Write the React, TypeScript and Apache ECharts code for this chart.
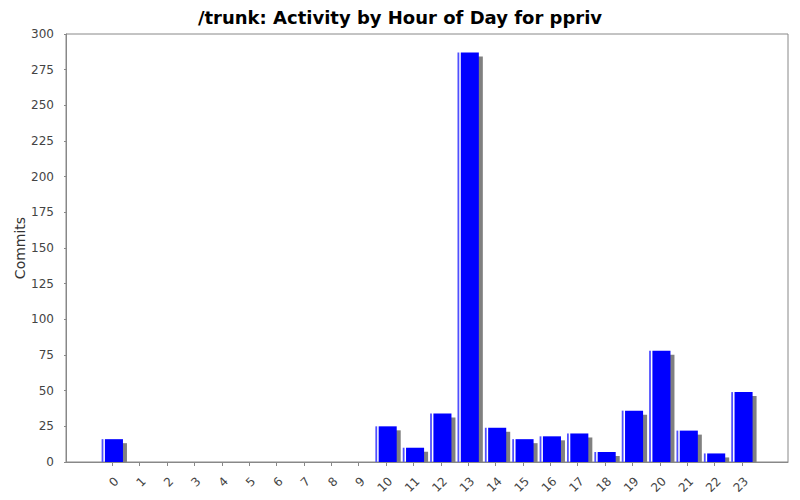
import React, { useEffect, useRef } from "react";
import * as echarts from "echarts";

const hours: string[] = ["0","1","2","3","4","5","6","7","8","9","10","11","12","13","14","15","16","17","18","19","20","21","22","23"];
const commits: number[] = [16,0,0,0,0,0,0,0,0,0,25,10,34,287,24,16,18,20,7,36,78,22,6,49];
const yMin = 0;
const yMax = 300;
const yStep = 25;
const titleText = "/trunk: Activity by Hour of Day for ppriv";
const yTitle = "Commits";

const FONT = "DejaVu Sans";

export default function App() {
  const ref = useRef<HTMLDivElement>(null);
  useEffect(() => {
    if (!ref.current) return;
    const chart = echarts.init(ref.current, undefined, { renderer: "svg" });
    const option: any = {
      animation: false,
      backgroundColor: "#ffffff",
      title: {
        text: titleText,
        left: "center",
        top: 3,
        textStyle: { fontFamily: FONT, fontSize: 18, fontWeight: "bold", color: "#000" },
      },
      grid: [
        { left: 66, top: 34, width: 722, height: 428, show: true, borderColor: "#888", borderWidth: 1, backgroundColor: "#fff" },
        { left: 98.6, top: 34, width: 657, height: 428 },
      ],
      xAxis: [
        {
          gridIndex: 0, type: "value", min: 0, max: 1, offset: 4,
          axisLine: { show: true, lineStyle: { color: "#888", width: 1 } },
          axisTick: { show: false }, axisLabel: { show: false }, splitLine: { show: false },
        },
        {
          gridIndex: 1, type: "category", data: hours, offset: 4, boundaryGap: true,
          axisLine: { show: false },
          axisTick: { show: true, alignWithLabel: true, length: 4, lineStyle: { color: "#888" } },
          axisLabel: { rotate: 45, fontFamily: FONT, fontSize: 12, color: "#444", margin: 9, interval: 0, verticalAlign: "top" },
          splitLine: { show: false },
        },
      ],
      yAxis: [
        {
          gridIndex: 0, type: "value", min: yMin, max: yMax, interval: yStep, offset: 4,
          name: yTitle, nameLocation: "middle", nameGap: 35, nameRotate: 90, nameMoveOverlap: false,
          nameTextStyle: { fontFamily: FONT, fontSize: 14, color: "#333" },
          axisLine: { show: true, lineStyle: { color: "#888", width: 1 } },
          axisTick: { show: true, length: 2, lineStyle: { color: "#888" } },
          axisLabel: { fontFamily: FONT, fontSize: 12, color: "#444", margin: 8 },
          splitLine: { show: false },
        },
        { gridIndex: 1, type: "value", min: yMin, max: yMax, show: false, splitLine: { show: false } },
      ],
      series: [
        {
          type: "custom",
          xAxisIndex: 1,
          yAxisIndex: 1,
          data: commits.map((v, i) => [i, v]),
          encode: { x: 0, y: 1 },
          renderItem: (params: any, api: any) => {
            const v = api.value(1);
            if (!v) return null;
            const idx = api.value(0);
            const top = api.coord([idx, v]);
            const base = api.coord([idx, 0]);
            const w = api.size([1, 0])[0] * 0.78;
            const x0 = top[0] - w / 2;
            const h = base[1] - top[1];
            return {
              type: "group",
              children: [
                { type: "rect", shape: { x: x0 + 4, y: top[1] + 4, width: w, height: Math.max(0, h - 4) }, style: { fill: "#808080" } },
                { type: "rect", shape: { x: x0, y: top[1], width: 1.8, height: h }, style: { fill: "#5050ff" } },
                { type: "rect", shape: { x: x0 + 3.3, y: top[1], width: w - 3.3, height: h }, style: { fill: "#0000ff" } },
              ],
            };
          },
        },
      ],
    };
    chart.setOption(option);
    return () => chart.dispose();
  }, []);
  return <div ref={ref} style={{ position: "fixed", left: 0, top: 0, width: 800, height: 500 }} />;
}
